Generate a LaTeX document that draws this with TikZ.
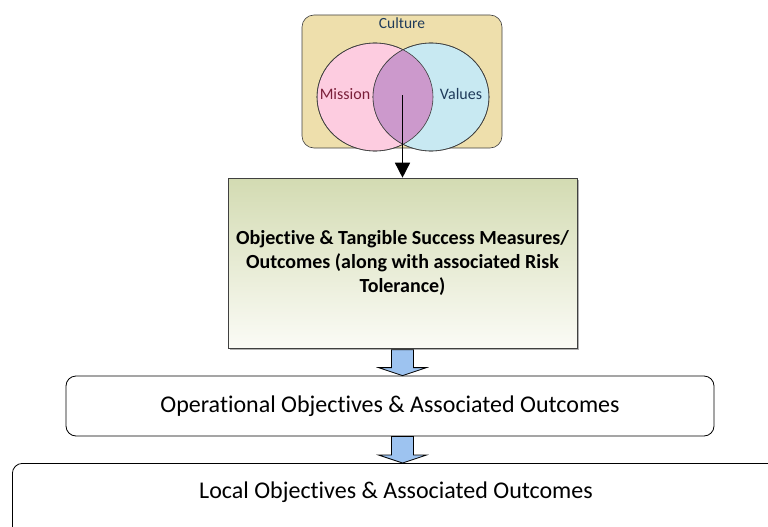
\documentclass[tikz,border=0pt]{standalone}
\usepackage{fontspec}
\setmainfont{Carlito}[Ligatures={NoCommon}]
\usetikzlibrary{shapes.geometric,shadows,calc,arrows.meta}
\definecolor{culturefill}{HTML}{EEDFAC}
\definecolor{missionfill}{HTML}{FDCCE0}
\definecolor{valuesfill}{HTML}{C8E9F2}
\definecolor{interfill}{HTML}{CC99CC}
\definecolor{greentop}{HTML}{D3DBB2}
\definecolor{greenbot}{HTML}{FBFBF6}
\definecolor{bluearrow}{HTML}{9DC3F0}
\definecolor{outline}{HTML}{404040}
\definecolor{culturetext}{HTML}{1F3B5A}
\definecolor{missiontext}{HTML}{7A1F3A}
\tikzset{
  venn/.style={ellipse, draw=outline, line width=0.6pt, minimum width=116pt, minimum height=108pt, inner sep=0pt},
  barrow/.style={draw=black, line width=0.8pt, fill=bluearrow, line join=miter},
  flowbox/.style={draw=black, line width=0.8pt, rounded corners=10pt, fill=white},
}
\begin{document}
\begin{tikzpicture}[x=1pt,y=1pt]
\useasboundingbox (0,0) rectangle (768,-527);
\clip (0,0) rectangle (768,-527);
% culture
\node[draw=outline, line width=0.6pt, fill=culturefill, rounded corners=12pt, minimum width=200pt, minimum height=133pt] (cult) at (402,-81.5) {};
\node[font=\fontsize{15.5}{18}\selectfont, text=culturetext] (culttxt) at (402,-23) {Culture};
\node[venn, fill=missionfill] (mis) at (375,-97) {};
\node[venn, fill=valuesfill] (val) at (431,-97) {};
\begin{scope}
  \clip (375,-97) ellipse (58pt and 54pt);
  \fill[interfill] (431,-97) ellipse (58pt and 54pt);
\end{scope}
\draw[outline, line width=0.6pt] (375,-97) ellipse (58pt and 54pt);
\draw[outline, line width=0.6pt] (431,-97) ellipse (58pt and 54pt);
\node[font=\fontsize{16}{18}\selectfont, text=missiontext] (mistxt) at (345,-94) {Mission};
\node[font=\fontsize{16}{18}\selectfont, text=culturetext] (valtxt) at (461,-94) {Values};
\coordinate (ic) at (402.5,-95);
% green box
\node[draw=outline, line width=0.6pt, top color=greentop, bottom color=greenbot,
      drop shadow={shadow xshift=2pt, shadow yshift=-2pt, fill=gray!60, opacity=1},
      minimum width=349pt, minimum height=170pt, align=center,
      font=\bfseries\fontsize{20}{24}\selectfont] (g) at (402.5,-263)
  {Objective \& Tangible Success Measures/\\Outcomes (along with associated Risk\\Tolerance)};
\draw[line width=1.5pt, -{Triangle[length=15pt,width=15pt]}] (ic) -- (g.north);
% operational box
\node[flowbox, minimum width=648pt, minimum height=60pt, font=\fontsize{24}{28}\selectfont] (op) at (390,-406) {Operational Objectives \& Associated Outcomes};
% local box
\node[flowbox, minimum width=780pt, minimum height=90pt, anchor=north west, text height=0pt, text depth=0pt] (loc) at (12,-463) {};
\node[font=\fontsize{24}{28}\selectfont] (loctxt) at (396,-492) {Local Objectives \& Associated Outcomes};
% block arrows
\coordinate (a1t) at ($(g.south)+(0,-1.5)$);
\coordinate (a1b) at (a1t |- op.north);
\draw[barrow] ($(a1t)+(-11,0)$) -- ($(a1b)+(-11,8)$) -- ($(a1b)+(-24,8)$) -- (a1b) -- ($(a1b)+(24,8)$) -- ($(a1b)+(11,8)$) -- ($(a1t)+(11,0)$) -- cycle;
\coordinate (a2t) at (a1t |- op.south);
\coordinate (a2b) at (a1t |- loc.north);
\draw[barrow] ($(a2t)+(-11,0)$) -- ($(a2b)+(-11,8)$) -- ($(a2b)+(-24,8)$) -- (a2b) -- ($(a2b)+(24,8)$) -- ($(a2b)+(11,8)$) -- ($(a2t)+(11,0)$) -- cycle;
\end{tikzpicture}
\end{document}
